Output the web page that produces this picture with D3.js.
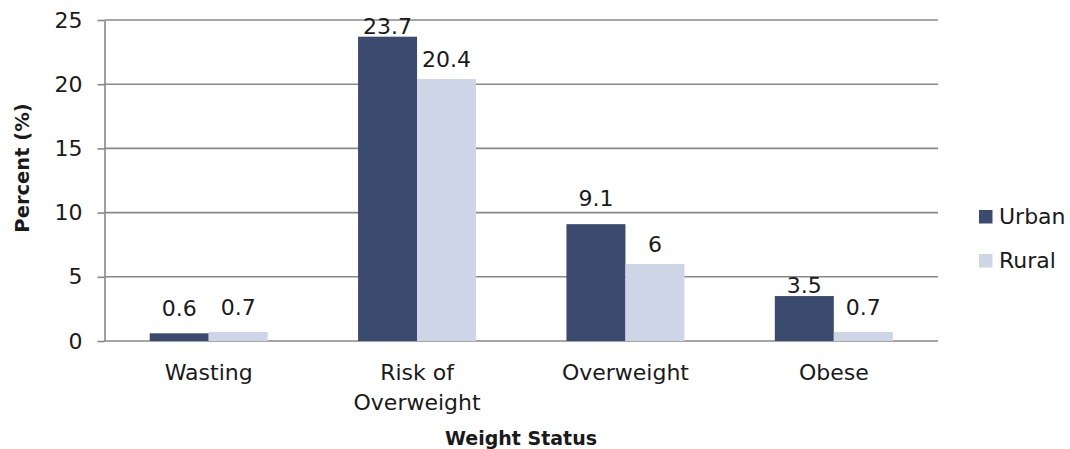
<!DOCTYPE html>
<html>
<head>
<meta charset="utf-8">
<script src="https://cdn.jsdelivr.net/npm/d3@7"></script>
<style>
  html, body { margin: 0; padding: 0; background: #fff; }
  svg { display: block; }
  text { font-family: "DejaVu Sans", sans-serif; fill: #1a1a1a; }
</style>
</head>
<body>
<svg id="chart" width="1070" height="449"></svg>
<script>
// ---- data ----
const categories = ["Wasting", "Risk of Overweight", "Overweight", "Obese"];
const categoryLines = [["Wasting"], ["Risk of", "Overweight"], ["Overweight"], ["Obese"]];
const seriesNames = ["Urban", "Rural"];
const urbanValues = [0.6, 23.7, 9.1, 3.5];
const ruralValues = [0.7, 20.4, 6, 0.7];
const yTickValues = [0, 5, 10, 15, 20, 25];
const yAxisTitle = "Percent (%)";
const xAxisTitle = "Weight Status";

// ---- layout / style (not data) ----
const colors = { Urban: "#3b4a6f", Rural: "#ced5e6" };
const labelLift = { Urban: [17.5, 3, 18, 3.3], Rural: [17, 12, 12, 17] };
const plot = { left: 104.5, right: 938, top: 20, bottom: 341 };
const gridColor = "#888888";

const svg = d3.select("#chart");

const x0 = d3.scaleBand().domain(categories).range([plot.left, plot.right]).paddingInner(0).paddingOuter(0);
const x1 = d3.scaleBand().domain(seriesNames).range([0, x0.bandwidth()]).paddingInner(0).paddingOuter(0.766);
const y = d3.scaleLinear().domain([0, 25]).range([plot.bottom, plot.top]);

const seriesValues = { Urban: urbanValues, Rural: ruralValues };

// gridlines
svg.append("g")
  .selectAll("line")
  .data(yTickValues)
  .join("line")
  .attr("x1", plot.left)
  .attr("x2", plot.right)
  .attr("y1", d => y(d))
  .attr("y2", d => y(d))
  .attr("stroke", gridColor)
  .attr("stroke-width", 1.6);

// y axis
const yAxis = svg.append("g")
  .attr("transform", `translate(${plot.left},0)`)
  .call(d3.axisLeft(y).tickValues(yTickValues).tickSize(7).tickPadding(15).tickSizeOuter(0).tickFormat(d3.format("d")));
yAxis.select(".domain").attr("stroke", gridColor).attr("stroke-width", 1.6);
yAxis.selectAll(".tick line").attr("stroke", gridColor).attr("stroke-width", 1.6);
yAxis.selectAll(".tick text")
  .attr("font-family", "DejaVu Sans, sans-serif")
  .attr("font-size", 22)
  .attr("fill", "#1a1a1a");

// bars
const rows = categories.map((c, i) => ({ cat: c, i, vals: seriesNames.map(s => ({ s, v: seriesValues[s][i], i })) }));

const groups = svg.append("g")
  .selectAll("g")
  .data(rows)
  .join("g")
  .attr("transform", d => `translate(${x0(d.cat)},0)`);

groups.selectAll("rect")
  .data(d => d.vals)
  .join("rect")
  .attr("x", d => x1(d.s))
  .attr("width", x1.bandwidth())
  .attr("y", d => y(d.v))
  .attr("height", d => y(0) - y(d.v))
  .attr("fill", d => colors[d.s]);

groups.selectAll("text.val")
  .data(d => d.vals)
  .join("text")
  .attr("class", "val")
  .attr("x", d => x1(d.s) + x1.bandwidth() / 2)
  .attr("y", d => y(d.v) - labelLift[d.s][d.i])
  .attr("text-anchor", "middle")
  .attr("font-size", 22)
  .text(d => d3.format("")(d.v));

// x axis labels
const xAxis = svg.append("g")
  .attr("transform", `translate(0,${plot.bottom})`)
  .call(d3.axisBottom(x0).tickSize(0).tickPadding(0));
xAxis.select(".domain").remove();
xAxis.selectAll(".tick text").each(function(d, i) {
  const t = d3.select(this);
  t.text(null).attr("y", 0).attr("dy", null)
    .attr("font-family", "DejaVu Sans, sans-serif")
    .attr("font-size", 22)
    .attr("fill", "#1a1a1a");
  categoryLines[i].forEach((line, k) => {
    t.append("tspan").attr("x", 0).attr("y", 39 + k * 30).text(line);
  });
});

// axis titles
svg.append("text")
  .attr("transform", `translate(29,168) rotate(-90)`)
  .attr("text-anchor", "middle")
  .attr("font-weight", "bold")
  .attr("font-size", 19.5)
  .text(yAxisTitle);

svg.append("text")
  .attr("x", 521)
  .attr("y", 445)
  .attr("text-anchor", "middle")
  .attr("font-weight", "bold")
  .attr("font-size", 19)
  .text(xAxisTitle);

// legend
const legend = svg.append("g")
  .selectAll("g")
  .data(seriesNames)
  .join("g")
  .attr("transform", (d, i) => `translate(979,${210 + i * 44})`);
legend.append("rect")
  .attr("width", 13.5)
  .attr("height", 13.5)
  .attr("fill", d => colors[d]);
legend.append("text")
  .attr("x", 20)
  .attr("y", 13.5)
  .attr("font-size", 22)
  .text(d => d);
</script>
</body>
</html>
